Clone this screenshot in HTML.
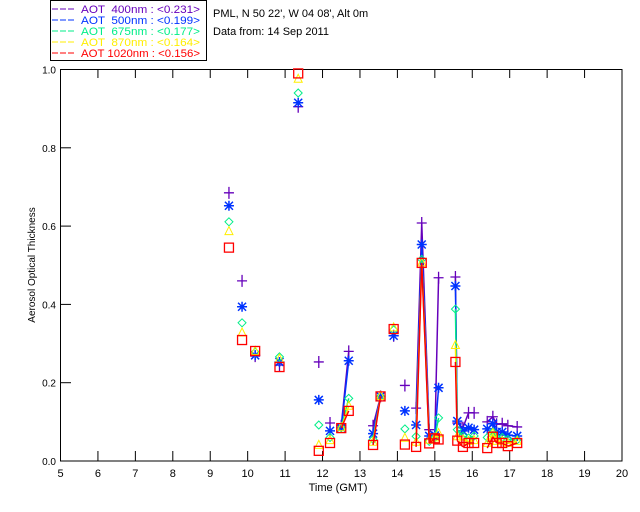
<!DOCTYPE html>
<html><head><meta charset="utf-8"><style>
body{margin:0;background:#fff;width:640px;height:512px;overflow:hidden}
svg{display:block;font-family:"Liberation Sans",sans-serif}
</style></head><body>
<svg id="chart" width="640" height="512" viewBox="0 0 640 512">
<g>
<rect x="50.5" y="0.5" width="156" height="60" fill="none" stroke="#000"/>
<g id="legendItems"></g>
</g>
<text x="213" y="17" font-size="11">PML, N 50 22', W 04 08', Alt 0m</text>
<text x="213" y="35" font-size="11">Data from: 14 Sep 2011</text>
<rect x="60.5" y="69.5" width="561.5" height="391.5" fill="none" stroke="#000"/>
<g id="axes"></g>
<g id="series"></g>
<text x="0" y="0" font-size="10" text-anchor="middle" transform="translate(35,265) rotate(-90)">Aerosol Optical Thickness</text>
<text x="338" y="491" font-size="11" text-anchor="middle">Time (GMT)</text>
</svg>
<script>
const times=[9.5,9.85,10.2,10.85,11.35,11.9,12.2,12.5,12.7,13.35,13.55,13.9,14.2,14.5,14.65,14.85,15.0,15.1,15.55,15.6,15.75,15.9,16.05,16.4,16.55,16.65,16.8,16.95,17.2];
const aot400=[0.685,0.46,0.268,0.245,0.905,0.253,0.097,0.09,0.28,0.09,0.165,0.32,0.193,0.135,0.608,0.08,0.062,0.468,0.47,0.097,0.085,0.123,0.123,0.1,0.113,0.094,0.095,0.09,0.087];
const aot500=[0.652,0.394,0.27,0.253,0.915,0.156,0.077,0.085,0.256,0.07,0.165,0.32,0.128,0.092,0.553,0.064,0.065,0.187,0.447,0.102,0.077,0.085,0.08,0.082,0.095,0.074,0.074,0.066,0.064];
const aot675=[0.611,0.353,0.278,0.266,0.94,0.092,0.06,0.085,0.16,0.055,0.165,0.335,0.082,0.063,0.515,0.05,0.06,0.11,0.388,0.08,0.064,0.059,0.064,0.06,0.074,0.06,0.06,0.055,0.054];
const aot870=[0.586,0.327,0.28,0.26,0.975,0.04,0.052,0.085,0.14,0.048,0.165,0.34,0.058,0.048,0.506,0.053,0.059,0.07,0.295,0.062,0.054,0.05,0.052,0.045,0.07,0.05,0.05,0.045,0.05];
const aot1020=[0.545,0.309,0.281,0.24,0.99,0.026,0.046,0.084,0.128,0.041,0.165,0.337,0.042,0.036,0.506,0.045,0.058,0.055,0.253,0.052,0.036,0.046,0.046,0.033,0.062,0.046,0.046,0.038,0.046];
const xTicks=[5,6,7,8,9,10,11,12,13,14,15,16,17,18,19,20];
const yTicks=[0.0,0.2,0.4,0.6,0.8,1.0];
const seriesNames=["400nm","500nm","675nm","870nm","1020nm"];
const seriesMeans=["0.231","0.199","0.177","0.164","0.156"];
const colors=["#6600bb","#0033ff","#00ee88","#ffee00","#ff0000"];
const NS="http://www.w3.org/2000/svg";
const xs=t=>60.5+(t-5)*(561.5/15);
const ys=v=>461-v*391.5;
function mk(tag,attrs,parent){const e=document.createElementNS(NS,tag);for(const k in attrs)e.setAttribute(k,attrs[k]);parent.appendChild(e);return e;}
const axes=document.getElementById('axes');
xTicks.forEach(t=>{
 const l=mk('line',{x1:xs(t),x2:xs(t),y1:461,y2:451,stroke:'#000'},axes);
 
 
 const l2=mk('line',{x1:xs(t),x2:xs(t),y1:70,y2:78,stroke:'#000'},axes);
 
 
 const tx=mk('text',{x:xs(t),y:477,'font-size':11,'text-anchor':'middle'},axes);
 tx.textContent=t;
 
 
});
yTicks.forEach(v=>{
 const l=mk('line',{x1:60.5,x2:71,y1:ys(v),y2:ys(v),stroke:'#000'},axes);
 
 
 const tx=mk('text',{x:56,y:ys(v)+4,'font-size':10,'text-anchor':'end'},axes);
 tx.textContent=v.toFixed(1);
 
 
});
const leg=document.getElementById('legendItems');
seriesNames.forEach((n,i)=>{
 const y=9+i*11;
 const l=mk('line',{x1:52,x2:74,y1:y,y2:y,stroke:colors[i],'stroke-dasharray':'6,2'},leg);
 
 
 const tx=mk('text',{x:81,y:y+4,'font-size':11,fill:colors[i],textLength:119,lengthAdjust:'spacingAndGlyphs'},leg);
 tx.textContent="AOT "+(n.length<6?"\u00a0":"")+n+" : <"+seriesMeans[i]+">";
 
 
});
const all=[aot400,aot500,aot675,aot870,aot1020];
const sg=document.getElementById('series');
all.forEach((vals,si)=>{
 const c=colors[si];
 const g=mk('g',{},sg);
 
 
 for(let i=1;i<times.length;i++){
  if(times[i]-times[i-1]<=0.25){
   const l=mk('line',{x1:xs(times[i-1]),y1:ys(vals[i-1]),x2:xs(times[i]),y2:ys(vals[i]),stroke:c,'stroke-width':1.5},g);
   
   
  }
 }
 times.forEach((t,i)=>{
  const x=xs(t),y=ys(vals[i]);let m;
  if(si==0)m=mk('path',{d:`M${x-5} ${y}H${x+5}M${x} ${y-6}V${y+6}`,stroke:c,fill:'none','stroke-width':1.3},g);
  else if(si==1)m=mk('path',{d:`M${x-5} ${y}H${x+5}M${x} ${y-5}V${y+5}M${x-4} ${y-4}L${x+4} ${y+4}M${x-4} ${y+4}L${x+4} ${y-4}`,stroke:c,fill:'none','stroke-width':1.5},g);
  else if(si==2)m=mk('path',{d:`M${x} ${y-4}L${x+4} ${y}L${x} ${y+4}L${x-4} ${y}Z`,stroke:c,fill:'none'},g);
  else if(si==3)m=mk('path',{d:`M${x} ${y-5}L${x+4} ${y+3}L${x-4} ${y+3}Z`,stroke:c,fill:'none'},g);
  else m=mk('rect',{x:x-4.5,y:y-4.5,width:9,height:9,stroke:c,fill:'none','stroke-width':1.3},g);
  
  
 });
});
</script>
</body></html>
